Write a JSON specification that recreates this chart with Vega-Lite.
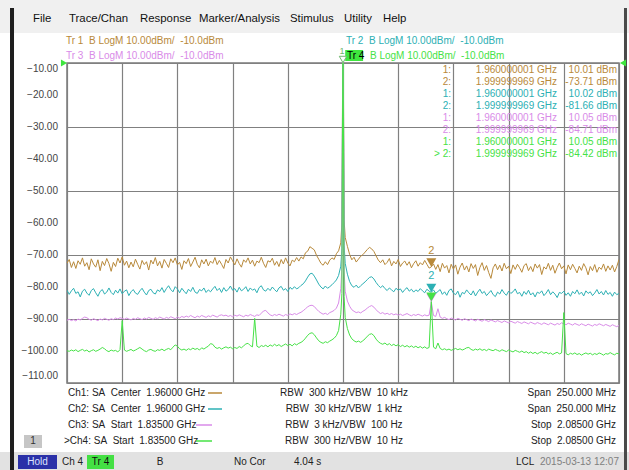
{
"$schema":"https://vega.github.io/schema/vega-lite/v6.json",
"width":552,"height":320,"autosize":"none",
"padding":{"left":67,"top":63,"right":10,"bottom":87},
"background":"#ffffff",
"config":{
 "font":"Liberation Sans",
 "view":{"stroke":"#7a7a7a","strokeWidth":1.5},
 "text":{"font":"Liberation Sans","fontSize":10,"baseline":"middle"}
},
"datasets":{
"traces":[
{"f":1835,"Tr1":-72.6,"Tr2":-81.0,"Tr3":-90.4,"Tr4":-99.9},
{"f":1836,"Tr1":-71.4,"Tr2":-82.3,"Tr3":-90.1,"Tr4":-100.1},
{"f":1837,"Tr1":-73.9,"Tr2":-81.2,"Tr3":-90.5,"Tr4":-99.7},
{"f":1838,"Tr1":-72.1,"Tr2":-80.4,"Tr3":-90.2,"Tr4":-100.0},
{"f":1839,"Tr1":-74.2,"Tr2":-82.0,"Tr3":-90.6,"Tr4":-99.6},
{"f":1840,"Tr1":-71.8,"Tr2":-81.5,"Tr3":-90.0,"Tr4":-100.2},
{"f":1841,"Tr1":-72.9,"Tr2":-83.1,"Tr3":-90.3,"Tr4":-99.8},
{"f":1842,"Tr1":-70.9,"Tr2":-81.3,"Tr3":-89.8,"Tr4":-99.5},
{"f":1843,"Tr1":-73.5,"Tr2":-80.7,"Tr3":-89.4,"Tr4":-100.0},
{"f":1844,"Tr1":-72.4,"Tr2":-81.9,"Tr3":-89.6,"Tr4":-99.7},
{"f":1845,"Tr1":-74.6,"Tr2":-82.6,"Tr3":-90.1,"Tr4":-100.3},
{"f":1846,"Tr1":-71.2,"Tr2":-81.1,"Tr3":-90.4,"Tr4":-99.9},
{"f":1847,"Tr1":-72.8,"Tr2":-80.5,"Tr3":-89.9,"Tr4":-99.6},
{"f":1848,"Tr1":-73.8,"Tr2":-81.8,"Tr3":-90.2,"Tr4":-100.1},
{"f":1849,"Tr1":-71.5,"Tr2":-82.9,"Tr3":-90.5,"Tr4":-99.8},
{"f":1850,"Tr1":-74.9,"Tr2":-81.4,"Tr3":-90.0,"Tr4":-99.4},
{"f":1851,"Tr1":-72.0,"Tr2":-80.8,"Tr3":-90.3,"Tr4":-98.9},
{"f":1852,"Tr1":-73.3,"Tr2":-82.2,"Tr3":-89.8,"Tr4":-99.3},
{"f":1853,"Tr1":-71.1,"Tr2":-81.6,"Tr3":-90.1,"Tr4":-99.9},
{"f":1854,"Tr1":-72.7,"Tr2":-80.3,"Tr3":-90.4,"Tr4":-100.2},
{"f":1855,"Tr1":-75.1,"Tr2":-81.7,"Tr3":-89.9,"Tr4":-99.7},
{"f":1856,"Tr1":-72.3,"Tr2":-82.4,"Tr3":-90.2,"Tr4":-100.0},
{"f":1857,"Tr1":-73.6,"Tr2":-81.0,"Tr3":-89.7,"Tr4":-99.8},
{"f":1858,"Tr1":-71.0,"Tr2":-81.9,"Tr3":-90.0,"Tr4":-100.3},
{"f":1859,"Tr1":-72.5,"Tr2":-80.6,"Tr3":-89.6,"Tr4":-99.6},
{"f":1860,"Tr1":-70.6,"Tr2":-82.1,"Tr3":-89.8,"Tr4":-90.5},
{"f":1861,"Tr1":-73.2,"Tr2":-81.3,"Tr3":-90.1,"Tr4":-99.7},
{"f":1862,"Tr1":-71.9,"Tr2":-80.9,"Tr3":-89.7,"Tr4":-100.1},
{"f":1863,"Tr1":-74.0,"Tr2":-82.7,"Tr3":-90.0,"Tr4":-99.8},
{"f":1864,"Tr1":-72.2,"Tr2":-81.5,"Tr3":-90.3,"Tr4":-99.5},
{"f":1865,"Tr1":-73.7,"Tr2":-80.8,"Tr3":-89.8,"Tr4":-100.0},
{"f":1866,"Tr1":-71.3,"Tr2":-81.9,"Tr3":-90.1,"Tr4":-99.7},
{"f":1867,"Tr1":-72.9,"Tr2":-82.3,"Tr3":-89.6,"Tr4":-99.3},
{"f":1868,"Tr1":-74.4,"Tr2":-81.2,"Tr3":-89.9,"Tr4":-98.9},
{"f":1869,"Tr1":-71.7,"Tr2":-80.4,"Tr3":-90.2,"Tr4":-99.4},
{"f":1870,"Tr1":-73.0,"Tr2":-81.6,"Tr3":-89.7,"Tr4":-99.9},
{"f":1871,"Tr1":-72.1,"Tr2":-82.5,"Tr3":-90.0,"Tr4":-100.2},
{"f":1872,"Tr1":-74.7,"Tr2":-81.1,"Tr3":-89.5,"Tr4":-99.7},
{"f":1873,"Tr1":-71.6,"Tr2":-80.7,"Tr3":-89.8,"Tr4":-99.5},
{"f":1874,"Tr1":-72.8,"Tr2":-81.8,"Tr3":-90.1,"Tr4":-99.9},
{"f":1875,"Tr1":-70.8,"Tr2":-82.2,"Tr3":-89.6,"Tr4":-100.1},
{"f":1876,"Tr1":-73.4,"Tr2":-80.9,"Tr3":-89.9,"Tr4":-99.6},
{"f":1877,"Tr1":-72.0,"Tr2":-81.4,"Tr3":-89.4,"Tr4":-99.8},
{"f":1878,"Tr1":-74.1,"Tr2":-80.2,"Tr3":-89.7,"Tr4":-99.4},
{"f":1879,"Tr1":-71.4,"Tr2":-81.7,"Tr3":-90.0,"Tr4":-99.9},
{"f":1880,"Tr1":-72.6,"Tr2":-80.5,"Tr3":-89.5,"Tr4":-99.5},
{"f":1881,"Tr1":-73.9,"Tr2":-79.6,"Tr3":-89.8,"Tr4":-99.2},
{"f":1882,"Tr1":-71.2,"Tr2":-80.8,"Tr3":-89.3,"Tr4":-99.6},
{"f":1883,"Tr1":-72.4,"Tr2":-81.5,"Tr3":-89.6,"Tr4":-98.8},
{"f":1884,"Tr1":-70.9,"Tr2":-79.9,"Tr3":-89.9,"Tr4":-98.1},
{"f":1885,"Tr1":-73.1,"Tr2":-80.6,"Tr3":-89.4,"Tr4":-98.5},
{"f":1886,"Tr1":-72.3,"Tr2":-81.8,"Tr3":-89.7,"Tr4":-99.3},
{"f":1887,"Tr1":-74.5,"Tr2":-80.4,"Tr3":-89.2,"Tr4":-99.7},
{"f":1888,"Tr1":-71.8,"Tr2":-81.3,"Tr3":-89.5,"Tr4":-99.4},
{"f":1889,"Tr1":-72.7,"Tr2":-82.1,"Tr3":-89.1,"Tr4":-99.8},
{"f":1890,"Tr1":-71.1,"Tr2":-80.7,"Tr3":-89.4,"Tr4":-99.3},
{"f":1891,"Tr1":-73.6,"Tr2":-81.4,"Tr3":-88.9,"Tr4":-99.6},
{"f":1892,"Tr1":-72.2,"Tr2":-80.1,"Tr3":-89.3,"Tr4":-99.1},
{"f":1893,"Tr1":-70.7,"Tr2":-81.6,"Tr3":-89.6,"Tr4":-99.5},
{"f":1894,"Tr1":-72.9,"Tr2":-82.0,"Tr3":-89.1,"Tr4":-99.2},
{"f":1895,"Tr1":-74.0,"Tr2":-80.8,"Tr3":-89.4,"Tr4":-99.7},
{"f":1896,"Tr1":-71.5,"Tr2":-81.2,"Tr3":-88.9,"Tr4":-99.0},
{"f":1897,"Tr1":-72.8,"Tr2":-80.3,"Tr3":-89.2,"Tr4":-99.4},
{"f":1898,"Tr1":-71.3,"Tr2":-81.7,"Tr3":-89.5,"Tr4":-98.9},
{"f":1899,"Tr1":-73.4,"Tr2":-80.9,"Tr3":-89.0,"Tr4":-98.5},
{"f":1900,"Tr1":-71.9,"Tr2":-81.5,"Tr3":-89.3,"Tr4":-97.7},
{"f":1901,"Tr1":-72.6,"Tr2":-80.6,"Tr3":-88.8,"Tr4":-97.9},
{"f":1902,"Tr1":-70.8,"Tr2":-79.8,"Tr3":-89.1,"Tr4":-98.8},
{"f":1903,"Tr1":-73.0,"Tr2":-81.1,"Tr3":-89.4,"Tr4":-99.2},
{"f":1904,"Tr1":-71.7,"Tr2":-80.4,"Tr3":-88.9,"Tr4":-98.9},
{"f":1905,"Tr1":-72.9,"Tr2":-81.7,"Tr3":-88.7,"Tr4":-99.4},
{"f":1906,"Tr1":-74.2,"Tr2":-80.2,"Tr3":-89.0,"Tr4":-99.0},
{"f":1907,"Tr1":-71.4,"Tr2":-81.3,"Tr3":-88.8,"Tr4":-98.7},
{"f":1908,"Tr1":-72.5,"Tr2":-80.8,"Tr3":-89.2,"Tr4":-99.1},
{"f":1909,"Tr1":-70.6,"Tr2":-79.7,"Tr3":-88.9,"Tr4":-98.8},
{"f":1910,"Tr1":-71.8,"Tr2":-81.0,"Tr3":-89.3,"Tr4":-99.3},
{"f":1911,"Tr1":-73.1,"Tr2":-80.5,"Tr3":-88.8,"Tr4":-98.9},
{"f":1912,"Tr1":-71.2,"Tr2":-81.6,"Tr3":-89.1,"Tr4":-99.2},
{"f":1913,"Tr1":-72.7,"Tr2":-80.1,"Tr3":-88.7,"Tr4":-98.6},
{"f":1914,"Tr1":-73.8,"Tr2":-81.2,"Tr3":-89.0,"Tr4":-99.0},
{"f":1915,"Tr1":-71.5,"Tr2":-80.7,"Tr3":-89.3,"Tr4":-98.4},
{"f":1916,"Tr1":-72.3,"Tr2":-79.9,"Tr3":-88.8,"Tr4":-97.8},
{"f":1917,"Tr1":-70.9,"Tr2":-81.4,"Tr3":-89.1,"Tr4":-97.6},
{"f":1918,"Tr1":-72.8,"Tr2":-80.3,"Tr3":-88.6,"Tr4":-98.3},
{"f":1919,"Tr1":-71.6,"Tr2":-81.0,"Tr3":-88.9,"Tr4":-98.7},
{"f":1920,"Tr1":-73.5,"Tr2":-80.6,"Tr3":-89.2,"Tr4":-89.8},
{"f":1921,"Tr1":-71.9,"Tr2":-81.8,"Tr3":-88.7,"Tr4":-98.5},
{"f":1922,"Tr1":-72.4,"Tr2":-80.2,"Tr3":-88.9,"Tr4":-98.9},
{"f":1923,"Tr1":-70.7,"Tr2":-79.6,"Tr3":-88.2,"Tr4":-98.3},
{"f":1924,"Tr1":-72.6,"Tr2":-80.9,"Tr3":-87.5,"Tr4":-98.6},
{"f":1925,"Tr1":-73.9,"Tr2":-81.3,"Tr3":-87.3,"Tr4":-98.2},
{"f":1926,"Tr1":-71.8,"Tr2":-80.4,"Tr3":-88.1,"Tr4":-98.7},
{"f":1927,"Tr1":-72.2,"Tr2":-81.1,"Tr3":-88.7,"Tr4":-98.1},
{"f":1928,"Tr1":-71.0,"Tr2":-80.0,"Tr3":-89.0,"Tr4":-98.5},
{"f":1929,"Tr1":-73.2,"Tr2":-80.8,"Tr3":-88.6,"Tr4":-97.9},
{"f":1930,"Tr1":-72.0,"Tr2":-81.5,"Tr3":-88.9,"Tr4":-98.4},
{"f":1931,"Tr1":-73.6,"Tr2":-80.3,"Tr3":-88.5,"Tr4":-98.0},
{"f":1932,"Tr1":-71.4,"Tr2":-79.8,"Tr3":-88.8,"Tr4":-98.6},
{"f":1933,"Tr1":-72.8,"Tr2":-81.0,"Tr3":-89.1,"Tr4":-98.2},
{"f":1934,"Tr1":-70.9,"Tr2":-80.5,"Tr3":-88.6,"Tr4":-97.8},
{"f":1935,"Tr1":-72.5,"Tr2":-81.4,"Tr3":-88.9,"Tr4":-98.3},
{"f":1936,"Tr1":-73.4,"Tr2":-80.1,"Tr3":-88.4,"Tr4":-97.9},
{"f":1937,"Tr1":-71.6,"Tr2":-80.7,"Tr3":-88.7,"Tr4":-98.4},
{"f":1938,"Tr1":-72.1,"Tr2":-79.9,"Tr3":-88.3,"Tr4":-97.7},
{"f":1939,"Tr1":-70.8,"Tr2":-80.6,"Tr3":-88.6,"Tr4":-98.1},
{"f":1940,"Tr1":-71.9,"Tr2":-80.2,"Tr3":-88.2,"Tr4":-97.6},
{"f":1941,"Tr1":-70.6,"Tr2":-79.5,"Tr3":-87.9,"Tr4":-97.3},
{"f":1942,"Tr1":-71.2,"Tr2":-79.0,"Tr3":-87.4,"Tr4":-96.8},
{"f":1943,"Tr1":-69.3,"Tr2":-78.1,"Tr3":-86.8,"Tr4":-96.0},
{"f":1944,"Tr1":-68.8,"Tr2":-76.9,"Tr3":-86.2,"Tr4":-95.1},
{"f":1945,"Tr1":-67.4,"Tr2":-75.9,"Tr3":-85.8,"Tr4":-94.5},
{"f":1946,"Tr1":-67.9,"Tr2":-75.7,"Tr3":-85.7,"Tr4":-94.3},
{"f":1947,"Tr1":-68.4,"Tr2":-76.6,"Tr3":-86.1,"Tr4":-94.9},
{"f":1948,"Tr1":-70.1,"Tr2":-77.8,"Tr3":-86.9,"Tr4":-95.9},
{"f":1949,"Tr1":-71.3,"Tr2":-79.1,"Tr3":-87.6,"Tr4":-96.8},
{"f":1950,"Tr1":-72.6,"Tr2":-80.0,"Tr3":-88.1,"Tr4":-97.3},
{"f":1951,"Tr1":-73.2,"Tr2":-80.6,"Tr3":-88.5,"Tr4":-97.6},
{"f":1952,"Tr1":-72.1,"Tr2":-79.7,"Tr3":-88.2,"Tr4":-97.1},
{"f":1953,"Tr1":-73.0,"Tr2":-80.4,"Tr3":-88.6,"Tr4":-97.4},
{"f":1954,"Tr1":-71.6,"Tr2":-79.9,"Tr3":-88.0,"Tr4":-96.9},
{"f":1955,"Tr1":-70.9,"Tr2":-79.3,"Tr3":-87.7,"Tr4":-96.5},
{"f":1956,"Tr1":-71.4,"Tr2":-78.6,"Tr3":-87.3,"Tr4":-96.0},
{"f":1957,"Tr1":-69.6,"Tr2":-77.8,"Tr3":-86.6,"Tr4":-95.2},
{"f":1958,"Tr1":-68.7,"Tr2":-76.4,"Tr3":-85.0,"Tr4":-93.6},
{"f":1959,"Tr1":-66.2,"Tr2":-73.5,"Tr3":-80.5,"Tr4":-88.5},
{"f":1959.5,"Tr1":-60,"Tr2":-68,"Tr3":-74,"Tr4":-82},
{"f":1960,"Tr1":10.01,"Tr2":10.02,"Tr3":10.05,"Tr4":10.05},
{"f":1960.5,"Tr1":-59,"Tr2":-67,"Tr3":-75,"Tr4":-83},
{"f":1961,"Tr1":-64.5,"Tr2":-72.6,"Tr3":-81.3,"Tr4":-89.5},
{"f":1962,"Tr1":-67.3,"Tr2":-76.0,"Tr3":-84.4,"Tr4":-93.0},
{"f":1963,"Tr1":-69.8,"Tr2":-78.3,"Tr3":-86.0,"Tr4":-95.0},
{"f":1964,"Tr1":-71.5,"Tr2":-79.6,"Tr3":-87.1,"Tr4":-96.2},
{"f":1965,"Tr1":-70.7,"Tr2":-80.1,"Tr3":-87.6,"Tr4":-96.8},
{"f":1966,"Tr1":-72.2,"Tr2":-79.4,"Tr3":-88.0,"Tr4":-97.2},
{"f":1967,"Tr1":-71.3,"Tr2":-80.3,"Tr3":-87.8,"Tr4":-96.9},
{"f":1968,"Tr1":-70.4,"Tr2":-79.6,"Tr3":-88.1,"Tr4":-97.3},
{"f":1969,"Tr1":-69.9,"Tr2":-79.0,"Tr3":-87.6,"Tr4":-96.8},
{"f":1970,"Tr1":-69.1,"Tr2":-78.4,"Tr3":-87.2,"Tr4":-96.2},
{"f":1971,"Tr1":-68.3,"Tr2":-77.7,"Tr3":-86.6,"Tr4":-95.4},
{"f":1972,"Tr1":-67.6,"Tr2":-77.0,"Tr3":-86.1,"Tr4":-94.8},
{"f":1973,"Tr1":-68.1,"Tr2":-76.8,"Tr3":-85.8,"Tr4":-94.6},
{"f":1974,"Tr1":-68.9,"Tr2":-77.5,"Tr3":-86.3,"Tr4":-95.2},
{"f":1975,"Tr1":-70.3,"Tr2":-78.6,"Tr3":-87.1,"Tr4":-96.3},
{"f":1976,"Tr1":-71.6,"Tr2":-79.5,"Tr3":-87.8,"Tr4":-97.1},
{"f":1977,"Tr1":-72.4,"Tr2":-80.2,"Tr3":-88.3,"Tr4":-97.6},
{"f":1978,"Tr1":-71.5,"Tr2":-79.6,"Tr3":-88.0,"Tr4":-97.9},
{"f":1979,"Tr1":-73.0,"Tr2":-80.5,"Tr3":-88.5,"Tr4":-97.5},
{"f":1980,"Tr1":-72.3,"Tr2":-81.1,"Tr3":-88.2,"Tr4":-98.1},
{"f":1981,"Tr1":-71.1,"Tr2":-80.3,"Tr3":-88.6,"Tr4":-97.7},
{"f":1982,"Tr1":-73.4,"Tr2":-80.9,"Tr3":-88.3,"Tr4":-98.3},
{"f":1983,"Tr1":-72.0,"Tr2":-81.5,"Tr3":-88.7,"Tr4":-97.9},
{"f":1984,"Tr1":-72.8,"Tr2":-80.4,"Tr3":-88.4,"Tr4":-98.4},
{"f":1985,"Tr1":-71.4,"Tr2":-81.0,"Tr3":-88.8,"Tr4":-98.0},
{"f":1986,"Tr1":-73.6,"Tr2":-80.6,"Tr3":-88.5,"Tr4":-98.6},
{"f":1987,"Tr1":-72.5,"Tr2":-81.7,"Tr3":-88.9,"Tr4":-98.2},
{"f":1988,"Tr1":-71.9,"Tr2":-80.8,"Tr3":-88.6,"Tr4":-98.7},
{"f":1989,"Tr1":-73.2,"Tr2":-80.2,"Tr3":-88.3,"Tr4":-98.3},
{"f":1990,"Tr1":-72.1,"Tr2":-81.3,"Tr3":-88.7,"Tr4":-98.8},
{"f":1991,"Tr1":-74.0,"Tr2":-80.7,"Tr3":-89.0,"Tr4":-98.4},
{"f":1992,"Tr1":-72.7,"Tr2":-81.6,"Tr3":-88.6,"Tr4":-98.9},
{"f":1993,"Tr1":-71.8,"Tr2":-80.9,"Tr3":-88.9,"Tr4":-98.5},
{"f":1994,"Tr1":-73.5,"Tr2":-81.4,"Tr3":-88.5,"Tr4":-99.0},
{"f":1995,"Tr1":-72.4,"Tr2":-80.5,"Tr3":-88.8,"Tr4":-98.6},
{"f":1996,"Tr1":-73.1,"Tr2":-81.2,"Tr3":-89.1,"Tr4":-99.1},
{"f":1997,"Tr1":-71.7,"Tr2":-81.8,"Tr3":-88.7,"Tr4":-98.7},
{"f":1998,"Tr1":-72.9,"Tr2":-80.7,"Tr3":-89.0,"Tr4":-99.2},
{"f":1999,"Tr1":-74.1,"Tr2":-81.3,"Tr3":-88.8,"Tr4":-98.9},
{"f":2000,"Tr1":-73.71,"Tr2":-81.66,"Tr3":-84.71,"Tr4":-84.42},
{"f":2001,"Tr1":-72.8,"Tr2":-80.9,"Tr3":-88.9,"Tr4":-98.8},
{"f":2002,"Tr1":-74.5,"Tr2":-82.0,"Tr3":-89.2,"Tr4":-99.3},
{"f":2003,"Tr1":-73.0,"Tr2":-81.4,"Tr3":-86.8,"Tr4":-97.5},
{"f":2004,"Tr1":-75.2,"Tr2":-80.8,"Tr3":-89.4,"Tr4":-99.2},
{"f":2005,"Tr1":-72.6,"Tr2":-82.3,"Tr3":-89.8,"Tr4":-99.6},
{"f":2006,"Tr1":-74.1,"Tr2":-81.5,"Tr3":-89.5,"Tr4":-99.3},
{"f":2007,"Tr1":-73.3,"Tr2":-82.6,"Tr3":-89.9,"Tr4":-99.7},
{"f":2008,"Tr1":-75.6,"Tr2":-81.1,"Tr3":-90.2,"Tr4":-99.4},
{"f":2009,"Tr1":-72.9,"Tr2":-80.6,"Tr3":-89.7,"Tr4":-99.8},
{"f":2010,"Tr1":-74.4,"Tr2":-81.9,"Tr3":-90.0,"Tr4":-99.5},
{"f":2011,"Tr1":-73.1,"Tr2":-82.4,"Tr3":-90.3,"Tr4":-99.2},
{"f":2012,"Tr1":-76.0,"Tr2":-81.3,"Tr3":-89.8,"Tr4":-99.6},
{"f":2013,"Tr1":-73.8,"Tr2":-83.2,"Tr3":-90.1,"Tr4":-99.3},
{"f":2014,"Tr1":-72.5,"Tr2":-81.7,"Tr3":-90.4,"Tr4":-99.7},
{"f":2015,"Tr1":-74.7,"Tr2":-82.1,"Tr3":-89.9,"Tr4":-99.4},
{"f":2016,"Tr1":-73.4,"Tr2":-80.9,"Tr3":-90.2,"Tr4":-99.0},
{"f":2017,"Tr1":-75.3,"Tr2":-81.8,"Tr3":-90.5,"Tr4":-98.9},
{"f":2018,"Tr1":-72.7,"Tr2":-82.5,"Tr3":-90.0,"Tr4":-99.5},
{"f":2019,"Tr1":-74.2,"Tr2":-81.2,"Tr3":-90.3,"Tr4":-99.8},
{"f":2020,"Tr1":-73.0,"Tr2":-82.8,"Tr3":-90.6,"Tr4":-99.4},
{"f":2021,"Tr1":-76.4,"Tr2":-81.6,"Tr3":-90.1,"Tr4":-99.7},
{"f":2022,"Tr1":-73.9,"Tr2":-80.7,"Tr3":-90.4,"Tr4":-99.3},
{"f":2023,"Tr1":-72.4,"Tr2":-82.0,"Tr3":-90.7,"Tr4":-99.8},
{"f":2024,"Tr1":-74.8,"Tr2":-81.4,"Tr3":-90.2,"Tr4":-99.5},
{"f":2025,"Tr1":-73.3,"Tr2":-82.7,"Tr3":-90.5,"Tr4":-99.9},
{"f":2026,"Tr1":-75.5,"Tr2":-81.9,"Tr3":-90.8,"Tr4":-99.4},
{"f":2027,"Tr1":-77.3,"Tr2":-81.1,"Tr3":-90.3,"Tr4":-99.7},
{"f":2028,"Tr1":-74.0,"Tr2":-82.4,"Tr3":-90.6,"Tr4":-99.9},
{"f":2029,"Tr1":-72.8,"Tr2":-83.0,"Tr3":-90.9,"Tr4":-99.5},
{"f":2030,"Tr1":-74.6,"Tr2":-81.6,"Tr3":-90.5,"Tr4":-99.8},
{"f":2031,"Tr1":-73.2,"Tr2":-82.2,"Tr3":-90.8,"Tr4":-100.1},
{"f":2032,"Tr1":-75.0,"Tr2":-80.8,"Tr3":-91.1,"Tr4":-99.6},
{"f":2033,"Tr1":-72.6,"Tr2":-81.9,"Tr3":-90.6,"Tr4":-99.9},
{"f":2034,"Tr1":-74.3,"Tr2":-82.6,"Tr3":-90.9,"Tr4":-100.2},
{"f":2035,"Tr1":-73.5,"Tr2":-81.3,"Tr3":-91.2,"Tr4":-99.7},
{"f":2036,"Tr1":-75.8,"Tr2":-82.0,"Tr3":-90.7,"Tr4":-100.0},
{"f":2037,"Tr1":-73.1,"Tr2":-81.5,"Tr3":-91.0,"Tr4":-100.3},
{"f":2038,"Tr1":-74.5,"Tr2":-80.6,"Tr3":-91.3,"Tr4":-99.8},
{"f":2039,"Tr1":-72.9,"Tr2":-82.1,"Tr3":-90.8,"Tr4":-100.1},
{"f":2040,"Tr1":-74.0,"Tr2":-81.7,"Tr3":-91.1,"Tr4":-100.4},
{"f":2041,"Tr1":-75.4,"Tr2":-82.9,"Tr3":-91.4,"Tr4":-100.0},
{"f":2042,"Tr1":-73.3,"Tr2":-81.4,"Tr3":-90.9,"Tr4":-100.5},
{"f":2043,"Tr1":-72.7,"Tr2":-82.3,"Tr3":-91.2,"Tr4":-100.2},
{"f":2044,"Tr1":-74.9,"Tr2":-81.0,"Tr3":-91.5,"Tr4":-100.7},
{"f":2045,"Tr1":-73.6,"Tr2":-82.5,"Tr3":-91.0,"Tr4":-100.3},
{"f":2046,"Tr1":-75.2,"Tr2":-81.8,"Tr3":-91.3,"Tr4":-100.8},
{"f":2047,"Tr1":-72.8,"Tr2":-83.1,"Tr3":-91.6,"Tr4":-100.4},
{"f":2048,"Tr1":-74.1,"Tr2":-81.6,"Tr3":-91.1,"Tr4":-100.9},
{"f":2049,"Tr1":-73.0,"Tr2":-82.0,"Tr3":-91.4,"Tr4":-100.5},
{"f":2050,"Tr1":-76.1,"Tr2":-81.2,"Tr3":-91.7,"Tr4":-100.2},
{"f":2051,"Tr1":-73.7,"Tr2":-82.7,"Tr3":-91.2,"Tr4":-100.7},
{"f":2052,"Tr1":-74.4,"Tr2":-81.9,"Tr3":-91.5,"Tr4":-100.4},
{"f":2053,"Tr1":-72.6,"Tr2":-80.8,"Tr3":-91.8,"Tr4":-100.9},
{"f":2054,"Tr1":-74.8,"Tr2":-82.4,"Tr3":-91.3,"Tr4":-100.6},
{"f":2055,"Tr1":-73.2,"Tr2":-81.5,"Tr3":-91.6,"Tr4":-101.1},
{"f":2056,"Tr1":-75.7,"Tr2":-82.2,"Tr3":-91.9,"Tr4":-100.7},
{"f":2057,"Tr1":-73.9,"Tr2":-83.3,"Tr3":-91.4,"Tr4":-100.4},
{"f":2058,"Tr1":-72.5,"Tr2":-81.7,"Tr3":-91.7,"Tr4":-100.9},
{"f":2059,"Tr1":-74.3,"Tr2":-82.0,"Tr3":-91.2,"Tr4":-100.6},
{"f":2060,"Tr1":-73.4,"Tr2":-81.3,"Tr3":-91.5,"Tr4":-88.0},
{"f":2061,"Tr1":-75.9,"Tr2":-82.6,"Tr3":-91.8,"Tr4":-100.8},
{"f":2062,"Tr1":-73.1,"Tr2":-81.8,"Tr3":-91.3,"Tr4":-101.2},
{"f":2063,"Tr1":-74.6,"Tr2":-82.9,"Tr3":-91.6,"Tr4":-100.7},
{"f":2064,"Tr1":-72.9,"Tr2":-81.4,"Tr3":-91.9,"Tr4":-101.0},
{"f":2065,"Tr1":-74.2,"Tr2":-82.1,"Tr3":-91.4,"Tr4":-100.6},
{"f":2066,"Tr1":-75.6,"Tr2":-80.9,"Tr3":-91.7,"Tr4":-101.1},
{"f":2067,"Tr1":-73.5,"Tr2":-82.3,"Tr3":-92.0,"Tr4":-100.8},
{"f":2068,"Tr1":-74.8,"Tr2":-81.6,"Tr3":-91.5,"Tr4":-101.3},
{"f":2069,"Tr1":-72.7,"Tr2":-82.8,"Tr3":-91.8,"Tr4":-100.9},
{"f":2070,"Tr1":-74.0,"Tr2":-81.2,"Tr3":-92.1,"Tr4":-100.6},
{"f":2071,"Tr1":-76.2,"Tr2":-82.0,"Tr3":-91.6,"Tr4":-101.0},
{"f":2072,"Tr1":-73.6,"Tr2":-81.5,"Tr3":-91.9,"Tr4":-100.7},
{"f":2073,"Tr1":-74.9,"Tr2":-82.7,"Tr3":-92.2,"Tr4":-101.2},
{"f":2074,"Tr1":-73.0,"Tr2":-81.9,"Tr3":-91.7,"Tr4":-100.8},
{"f":2075,"Tr1":-75.4,"Tr2":-80.8,"Tr3":-92.0,"Tr4":-101.1},
{"f":2076,"Tr1":-73.8,"Tr2":-82.2,"Tr3":-91.5,"Tr4":-100.6},
{"f":2077,"Tr1":-74.5,"Tr2":-81.4,"Tr3":-91.8,"Tr4":-100.9},
{"f":2078,"Tr1":-72.8,"Tr2":-82.5,"Tr3":-92.1,"Tr4":-101.3},
{"f":2079,"Tr1":-75.1,"Tr2":-81.1,"Tr3":-91.7,"Tr4":-100.8},
{"f":2080,"Tr1":-73.4,"Tr2":-82.3,"Tr3":-92.0,"Tr4":-101.0},
{"f":2081,"Tr1":-74.7,"Tr2":-81.7,"Tr3":-92.3,"Tr4":-100.5},
{"f":2082,"Tr1":-73.2,"Tr2":-82.9,"Tr3":-91.8,"Tr4":-100.9},
{"f":2083,"Tr1":-75.3,"Tr2":-81.6,"Tr3":-92.1,"Tr4":-101.2},
{"f":2084,"Tr1":-73.6,"Tr2":-82.4,"Tr3":-92.4,"Tr4":-100.7},
{"f":2085,"Tr1":-71.4,"Tr2":-82.0,"Tr3":-92.0,"Tr4":-100.9}
],
"markers":[
{"row":1,"trace":"Tr1","mk":"1:","f":1960.000001,"lvl":10.01,"ftxt":"1.960000001 GHz","ltxt":"10.01 dBm"},
{"row":2,"trace":"Tr1","mk":"2:","f":1999.999969,"lvl":-73.71,"ftxt":"1.999999969 GHz","ltxt":"-73.71 dBm"},
{"row":3,"trace":"Tr2","mk":"1:","f":1960.000001,"lvl":10.02,"ftxt":"1.960000001 GHz","ltxt":"10.02 dBm"},
{"row":4,"trace":"Tr2","mk":"2:","f":1999.999969,"lvl":-81.66,"ftxt":"1.999999969 GHz","ltxt":"-81.66 dBm"},
{"row":5,"trace":"Tr3","mk":"1:","f":1960.000001,"lvl":10.05,"ftxt":"1.960000001 GHz","ltxt":"10.05 dBm"},
{"row":6,"trace":"Tr3","mk":"2:","f":1999.999969,"lvl":-84.71,"ftxt":"1.999999969 GHz","ltxt":"-84.71 dBm"},
{"row":7,"trace":"Tr4","mk":"1:","f":1960.000001,"lvl":10.05,"ftxt":"1.960000001 GHz","ltxt":"10.05 dBm"},
{"row":8,"trace":"Tr4","mk":"> 2:","f":1999.999969,"lvl":-84.42,"ftxt":"1.999999969 GHz","ltxt":"-84.42 dBm"}
],
"yticks":[{"v":-20},{"v":-30},{"v":-40},{"v":-50},{"v":-60},{"v":-70},{"v":-80},{"v":-90},{"v":-100}]
},
"layer":[
{"data":{"values":[{"part":"menu bar"}]},"mark":{"type":"rect","color":"#f0f0f0"},"encoding":{"x":{"datum":1804.66},"x2":{"datum":2089.53},"y":{"datum":9.69},"y2":{"datum":-0.625}}},
{"data":{"values":[{"part":"status bar"}]},"mark":{"type":"rect","color":"#e2e2e2"},"encoding":{"x":{"datum":1804.66},"x2":{"datum":2089.53},"y":{"datum":-131.5625},"y2":{"datum":-137.19}}},
{"data":{"values":[{"part":"left frame"}]},"mark":{"type":"rect","color":"#1e1e1e"},"encoding":{"x":{"datum":1809.19},"x2":{"datum":1811.0},"y":{"datum":7.19},"y2":{"datum":-137.19}}},
{"data":{"values":[{"part":"right frame"}]},"mark":{"type":"rect","color":"#4a4a4a"},"encoding":{"x":{"datum":2087.26},"x2":{"datum":2088.62},"y":{"datum":7.19},"y2":{"datum":-137.19}}},
{"data":{"values":[{"part":"window box"}]},"mark":{"type":"rect","color":"#c6c6c6"},"encoding":{"x":{"datum":1815.53},"x2":{"datum":1823.68},"y":{"datum":-126.25},"y2":{"datum":-130.31}}},
{"data":{"values":[{"part":"hold box"}]},"mark":{"type":"rect","color":"#2b31a8"},"encoding":{"x":{"datum":1812.81},"x2":{"datum":1830.47},"y":{"datum":-132.5},"y2":{"datum":-136.875}}},
{"data":{"values":[{"part":"tr4 status box"}]},"mark":{"type":"rect","color":"#44e044"},"encoding":{"x":{"datum":1844.06},"x2":{"datum":1856.29},"y":{"datum":-132.5},"y2":{"datum":-136.875}}},
{"data":{"values":[{"part":"tr4 header box"}]},"mark":{"type":"rect","color":"#3ee63e"},"encoding":{"x":{"datum":1961.0},"x2":{"datum":1969.1},"y":{"datum":-5.9375},"y2":{"datum":-9.375}}},
{"data":{"name":"traces"},"transform":[{"fold":["Tr1","Tr2","Tr3","Tr4"],"as":["trace","dBm"]}],
 "mark":{"type":"line","clip":true,"strokeWidth":1},
 "encoding":{
  "x":{"field":"f","type":"quantitative","title":null,"scale":{"domain":[1835,2085],"nice":false,"zero":false},"axis":{"title":null,"values":[1835,1860,1885,1910,1935,1960,1985,2010,2035,2060,2085],"labels":false,"ticks":false,"tickSize":0,"domain":false,"grid":true,"gridColor":"#808080","gridWidth":1.2,"gridOpacity":1}},
  "y":{"field":"dBm","type":"quantitative","title":null,"scale":{"domain":[-110,-10],"nice":false,"zero":false},"axis":{"title":null,"values":[-110,-100,-90,-80,-70,-60,-50,-40,-30,-20,-10],"labels":false,"ticks":false,"tickSize":0,"domain":false,"grid":true,"gridColor":"#808080","gridWidth":1.2,"gridOpacity":1}},
  "color":{"field":"trace","type":"nominal","scale":{"domain":["Tr1","Tr2","Tr3","Tr4"],"range":["#b8893a","#2cb0b4","#d98be8","#46e246"]},"legend":null}
 }},
{"data":{"name":"yticks"},"mark":{"type":"text","align":"right","color":"#444444","fontSize":10},"encoding":{"x":{"datum":1830.92},"y":{"field":"v","type":"quantitative","title":null},"text":{"field":"v","type":"quantitative","format":".2f"}}},
{"data":{"values":[{"v":-10}]},"mark":{"type":"text","align":"right","color":"#444444","fontSize":10,"yOffset":6},"encoding":{"x":{"datum":1830.92},"y":{"field":"v","type":"quantitative","title":null},"text":{"field":"v","type":"quantitative","format":".2f"}}},
{"data":{"values":[{"v":-110}]},"mark":{"type":"text","align":"right","color":"#444444","fontSize":10,"yOffset":-7},"encoding":{"x":{"datum":1830.92},"y":{"field":"v","type":"quantitative","title":null},"text":{"field":"v","type":"quantitative","format":".2f"}}},
{"data":{"name":"markers"},"transform":[{"filter":"datum.lvl < 0"}],"mark":{"type":"point","shape":"triangle-down","filled":true,"size":100,"opacity":1,"yOffset":-4.3},"encoding":{"x":{"field":"f","type":"quantitative","title":null},"y":{"field":"lvl","type":"quantitative","title":null},"color":{"field":"trace","type":"nominal","legend":null}}},
{"data":{"name":"markers"},"transform":[{"filter":"datum.lvl < 0 && (datum.trace == 'Tr1' || datum.trace == 'Tr2')"}],"mark":{"type":"text","text":"2","yOffset":-16,"fontSize":11},"encoding":{"x":{"field":"f","type":"quantitative","title":null},"y":{"field":"lvl","type":"quantitative","title":null},"color":{"field":"trace","type":"nominal","legend":null}}},
{"data":{"name":"markers"},"transform":[{"filter":"datum.row == 7"}],"encoding":{"x":{"field":"f","type":"quantitative","title":null},"y":{"datum":-10}},"layer":[
 {"mark":{"type":"point","shape":"triangle-down","filled":true,"fill":"#ffffff","stroke":"#6fb86f","strokeWidth":1,"size":55,"opacity":1,"yOffset":-3.5}},
 {"mark":{"type":"text","text":"1","color":"#6fb86f","yOffset":-12,"xOffset":-1,"fontSize":9}}
]},
{"data":{"values":[{"ref":"left"}]},"mark":{"type":"point","shape":"triangle-right","filled":true,"size":50,"opacity":1,"color":"#3ee63e","xOffset":-3},"encoding":{"x":{"datum":1835},"y":{"datum":-10}}},
{"data":{"values":[{"ref":"right"}]},"mark":{"type":"point","shape":"triangle-left","filled":true,"size":50,"opacity":1,"color":"#3ee63e","xOffset":4},"encoding":{"x":{"datum":2085},"y":{"datum":-10}}},
{"data":{"values":[{"trace":"Tr1","label":"Tr 1\u00a0\u00a0B LogM 10.00dBm/\u00a0\u00a0-10.0dBm"}]},"mark":{"type":"text","align":"left"},"encoding":{"x":{"datum":1834.55},"y":{"datum":-3.125},"text":{"field":"label"},"color":{"field":"trace","type":"nominal","legend":null}}},
{"data":{"values":[{"trace":"Tr3","label":"Tr 3\u00a0\u00a0B LogM 10.00dBm/\u00a0\u00a0-10.0dBm"}]},"mark":{"type":"text","align":"left"},"encoding":{"x":{"datum":1834.55},"y":{"datum":-7.8125},"text":{"field":"label"},"color":{"field":"trace","type":"nominal","legend":null}}},
{"data":{"values":[{"trace":"Tr2","label":"Tr 2\u00a0\u00a0B LogM 10.00dBm/\u00a0\u00a0-10.0dBm"}]},"mark":{"type":"text","align":"left"},"encoding":{"x":{"datum":1961.36},"y":{"datum":-3.125},"text":{"field":"label"},"color":{"field":"trace","type":"nominal","legend":null}}},
{"data":{"values":[{"label":"Tr 4"}]},"mark":{"type":"text","align":"left","color":"#000000"},"encoding":{"x":{"datum":1961.81},"y":{"datum":-7.7},"text":{"field":"label"}}},
{"data":{"values":[{"trace":"Tr4","label":"B LogM 10.00dBm/\u00a0\u00a0-10.0dBm"}]},"mark":{"type":"text","align":"left"},"encoding":{"x":{"datum":1972.2},"y":{"datum":-7.8125},"text":{"field":"label"},"color":{"field":"trace","type":"nominal","legend":null}}},
{"data":{"name":"markers"},"transform":[{"filter":"datum.row == 1"}],"encoding":{"y":{"datum":-12.1875},"color":{"field":"trace","type":"nominal","legend":null}},"layer":[
 {"mark":{"type":"text","align":"right"},"encoding":{"x":{"datum":2008.91},"text":{"field":"mk"}}},
 {"mark":{"type":"text","align":"right"},"encoding":{"x":{"datum":2056.92},"text":{"field":"ftxt"}}},
 {"mark":{"type":"text","align":"right"},"encoding":{"x":{"datum":2084.09},"text":{"field":"ltxt"}}}]},
{"data":{"name":"markers"},"transform":[{"filter":"datum.row == 2"}],"encoding":{"y":{"datum":-15.9375},"color":{"field":"trace","type":"nominal","legend":null}},"layer":[
 {"mark":{"type":"text","align":"right"},"encoding":{"x":{"datum":2008.91},"text":{"field":"mk"}}},
 {"mark":{"type":"text","align":"right"},"encoding":{"x":{"datum":2056.92},"text":{"field":"ftxt"}}},
 {"mark":{"type":"text","align":"right"},"encoding":{"x":{"datum":2084.09},"text":{"field":"ltxt"}}}]},
{"data":{"name":"markers"},"transform":[{"filter":"datum.row == 3"}],"encoding":{"y":{"datum":-19.6875},"color":{"field":"trace","type":"nominal","legend":null}},"layer":[
 {"mark":{"type":"text","align":"right"},"encoding":{"x":{"datum":2008.91},"text":{"field":"mk"}}},
 {"mark":{"type":"text","align":"right"},"encoding":{"x":{"datum":2056.92},"text":{"field":"ftxt"}}},
 {"mark":{"type":"text","align":"right"},"encoding":{"x":{"datum":2084.09},"text":{"field":"ltxt"}}}]},
{"data":{"name":"markers"},"transform":[{"filter":"datum.row == 4"}],"encoding":{"y":{"datum":-23.4375},"color":{"field":"trace","type":"nominal","legend":null}},"layer":[
 {"mark":{"type":"text","align":"right"},"encoding":{"x":{"datum":2008.91},"text":{"field":"mk"}}},
 {"mark":{"type":"text","align":"right"},"encoding":{"x":{"datum":2056.92},"text":{"field":"ftxt"}}},
 {"mark":{"type":"text","align":"right"},"encoding":{"x":{"datum":2084.09},"text":{"field":"ltxt"}}}]},
{"data":{"name":"markers"},"transform":[{"filter":"datum.row == 5"}],"encoding":{"y":{"datum":-27.1875},"color":{"field":"trace","type":"nominal","legend":null}},"layer":[
 {"mark":{"type":"text","align":"right"},"encoding":{"x":{"datum":2008.91},"text":{"field":"mk"}}},
 {"mark":{"type":"text","align":"right"},"encoding":{"x":{"datum":2056.92},"text":{"field":"ftxt"}}},
 {"mark":{"type":"text","align":"right"},"encoding":{"x":{"datum":2084.09},"text":{"field":"ltxt"}}}]},
{"data":{"name":"markers"},"transform":[{"filter":"datum.row == 6"}],"encoding":{"y":{"datum":-30.9375},"color":{"field":"trace","type":"nominal","legend":null}},"layer":[
 {"mark":{"type":"text","align":"right"},"encoding":{"x":{"datum":2008.91},"text":{"field":"mk"}}},
 {"mark":{"type":"text","align":"right"},"encoding":{"x":{"datum":2056.92},"text":{"field":"ftxt"}}},
 {"mark":{"type":"text","align":"right"},"encoding":{"x":{"datum":2084.09},"text":{"field":"ltxt"}}}]},
{"data":{"name":"markers"},"transform":[{"filter":"datum.row == 7"}],"encoding":{"y":{"datum":-34.6875},"color":{"field":"trace","type":"nominal","legend":null}},"layer":[
 {"mark":{"type":"text","align":"right"},"encoding":{"x":{"datum":2008.91},"text":{"field":"mk"}}},
 {"mark":{"type":"text","align":"right"},"encoding":{"x":{"datum":2056.92},"text":{"field":"ftxt"}}},
 {"mark":{"type":"text","align":"right"},"encoding":{"x":{"datum":2084.09},"text":{"field":"ltxt"}}}]},
{"data":{"name":"markers"},"transform":[{"filter":"datum.row == 8"}],"encoding":{"y":{"datum":-38.4375},"color":{"field":"trace","type":"nominal","legend":null}},"layer":[
 {"mark":{"type":"text","align":"right"},"encoding":{"x":{"datum":2008.91},"text":{"field":"mk"}}},
 {"mark":{"type":"text","align":"right"},"encoding":{"x":{"datum":2056.92},"text":{"field":"ftxt"}}},
 {"mark":{"type":"text","align":"right"},"encoding":{"x":{"datum":2084.09},"text":{"field":"ltxt"}}}]},
{"data":{"values":[{"trace":"Tr1","a":"Ch1: SA\u00a0\u00a0Center\u00a0\u00a01.96000 GHz","b":"RBW\u00a0\u00a0300 kHz/VBW\u00a0\u00a010 kHz","c":"Span\u00a0\u00a0250.000 MHz"}]},"encoding":{"y":{"datum":-113.125}},"layer":[
 {"mark":{"type":"text","align":"left","color":"#222222"},"encoding":{"x":{"datum":1835.45},"text":{"field":"a"}}},
 {"mark":{"type":"rule","strokeWidth":1.5},"encoding":{"x":{"datum":1898.86},"x2":{"datum":1905.2},"color":{"field":"trace","type":"nominal","legend":null}}},
 {"mark":{"type":"text","align":"center","color":"#222222"},"encoding":{"x":{"datum":1960.45},"text":{"field":"b"}}},
 {"mark":{"type":"text","align":"right","color":"#222222"},"encoding":{"x":{"datum":2083.64},"text":{"field":"c"}}}]},
{"data":{"values":[{"trace":"Tr2","a":"Ch2: SA\u00a0\u00a0Center\u00a0\u00a01.96000 GHz","b":"RBW\u00a0\u00a030 kHz/VBW\u00a0\u00a01 kHz","c":"Span\u00a0\u00a0250.000 MHz"}]},"encoding":{"y":{"datum":-118.125}},"layer":[
 {"mark":{"type":"text","align":"left","color":"#222222"},"encoding":{"x":{"datum":1835.45},"text":{"field":"a"}}},
 {"mark":{"type":"rule","strokeWidth":1.5},"encoding":{"x":{"datum":1898.86},"x2":{"datum":1905.2},"color":{"field":"trace","type":"nominal","legend":null}}},
 {"mark":{"type":"text","align":"center","color":"#222222"},"encoding":{"x":{"datum":1960.45},"text":{"field":"b"}}},
 {"mark":{"type":"text","align":"right","color":"#222222"},"encoding":{"x":{"datum":2083.64},"text":{"field":"c"}}}]},
{"data":{"values":[{"trace":"Tr3","a":"Ch3: SA\u00a0\u00a0Start\u00a0\u00a01.83500 GHz","b":"RBW\u00a0\u00a03 kHz/VBW\u00a0\u00a0100 Hz","c":"Stop\u00a0\u00a02.08500 GHz"}]},"encoding":{"y":{"datum":-123.125}},"layer":[
 {"mark":{"type":"text","align":"left","color":"#222222"},"encoding":{"x":{"datum":1835.45},"text":{"field":"a"}}},
 {"mark":{"type":"rule","strokeWidth":1.5},"encoding":{"x":{"datum":1893.42},"x2":{"datum":1900.67},"color":{"field":"trace","type":"nominal","legend":null}}},
 {"mark":{"type":"text","align":"center","color":"#222222"},"encoding":{"x":{"datum":1960.45},"text":{"field":"b"}}},
 {"mark":{"type":"text","align":"right","color":"#222222"},"encoding":{"x":{"datum":2083.64},"text":{"field":"c"}}}]},
{"data":{"values":[{"trace":"Tr4","a":">Ch4: SA\u00a0\u00a0Start\u00a0\u00a01.83500 GHz","b":"RBW\u00a0\u00a0300 Hz/VBW\u00a0\u00a010 Hz","c":"Stop\u00a0\u00a02.08500 GHz"}]},"encoding":{"y":{"datum":-128.125}},"layer":[
 {"mark":{"type":"text","align":"left","color":"#222222"},"encoding":{"x":{"datum":1833.64},"text":{"field":"a"}}},
 {"mark":{"type":"rule","strokeWidth":1.5},"encoding":{"x":{"datum":1893.42},"x2":{"datum":1900.67},"color":{"field":"trace","type":"nominal","legend":null}}},
 {"mark":{"type":"text","align":"center","color":"#222222"},"encoding":{"x":{"datum":1960.45},"text":{"field":"b"}}},
 {"mark":{"type":"text","align":"right","color":"#222222"},"encoding":{"x":{"datum":2083.64},"text":{"field":"c"}}}]},
{"data":{"values":[{"label":"1"}]},"mark":{"type":"text","color":"#333333"},"encoding":{"x":{"datum":1819.6},"y":{"datum":-128.28},"text":{"field":"label"}}},
{"encoding":{"y":{"datum":-134.6875}},"layer":[
 {"data":{"values":[{"label":"Hold"}]},"mark":{"type":"text","align":"center","color":"#dde2ff"},"encoding":{"x":{"datum":1821.64},"text":{"field":"label"}}},
 {"data":{"values":[{"label":"Ch 4"}]},"mark":{"type":"text","align":"left","color":"#222222"},"encoding":{"x":{"datum":1832.74},"text":{"field":"label"}}},
 {"data":{"values":[{"label":"Tr 4"}]},"mark":{"type":"text","align":"center","color":"#111111"},"encoding":{"x":{"datum":1850.17},"text":{"field":"label"}}},
 {"data":{"values":[{"label":"B"}]},"mark":{"type":"text","align":"center","color":"#222222"},"encoding":{"x":{"datum":1877.12},"text":{"field":"label"}}},
 {"data":{"values":[{"label":"No Cor"}]},"mark":{"type":"text","align":"left","color":"#222222"},"encoding":{"x":{"datum":1910.63},"text":{"field":"label"}}},
 {"data":{"values":[{"label":"4.04 s"}]},"mark":{"type":"text","align":"left","color":"#222222"},"encoding":{"x":{"datum":1937.81},"text":{"field":"label"}}},
 {"data":{"values":[{"label":"LCL"}]},"mark":{"type":"text","align":"left","color":"#222222"},"encoding":{"x":{"datum":2038.35},"text":{"field":"label"}}},
 {"data":{"values":[{"label":"2015-03-13 12:07"}]},"mark":{"type":"text","align":"left","color":"#808080"},"encoding":{"x":{"datum":2049.22},"text":{"field":"label"}}}
]},
{"encoding":{"y":{"datum":3.75}},"layer":[
 {"data":{"values":[{"label":"File"}]},"mark":{"type":"text","align":"left","fontSize":11.4,"color":"#111111"},"encoding":{"x":{"datum":1819.6},"text":{"field":"label"}}},
 {"data":{"values":[{"label":"Trace/Chan"}]},"mark":{"type":"text","align":"left","fontSize":11.4,"color":"#111111"},"encoding":{"x":{"datum":1835.91},"text":{"field":"label"}}},
 {"data":{"values":[{"label":"Response"}]},"mark":{"type":"text","align":"left","fontSize":11.4,"color":"#111111"},"encoding":{"x":{"datum":1868.06},"text":{"field":"label"}}},
 {"data":{"values":[{"label":"Marker/Analysis"}]},"mark":{"type":"text","align":"left","fontSize":11.4,"color":"#111111"},"encoding":{"x":{"datum":1894.78},"text":{"field":"label"}}},
 {"data":{"values":[{"label":"Stimulus"}]},"mark":{"type":"text","align":"left","fontSize":11.4,"color":"#111111"},"encoding":{"x":{"datum":1936.0},"text":{"field":"label"}}},
 {"data":{"values":[{"label":"Utility"}]},"mark":{"type":"text","align":"left","fontSize":11.4,"color":"#111111"},"encoding":{"x":{"datum":1960.45},"text":{"field":"label"}}},
 {"data":{"values":[{"label":"Help"}]},"mark":{"type":"text","align":"left","fontSize":11.4,"color":"#111111"},"encoding":{"x":{"datum":1978.12},"text":{"field":"label"}}}
]}
]
}
